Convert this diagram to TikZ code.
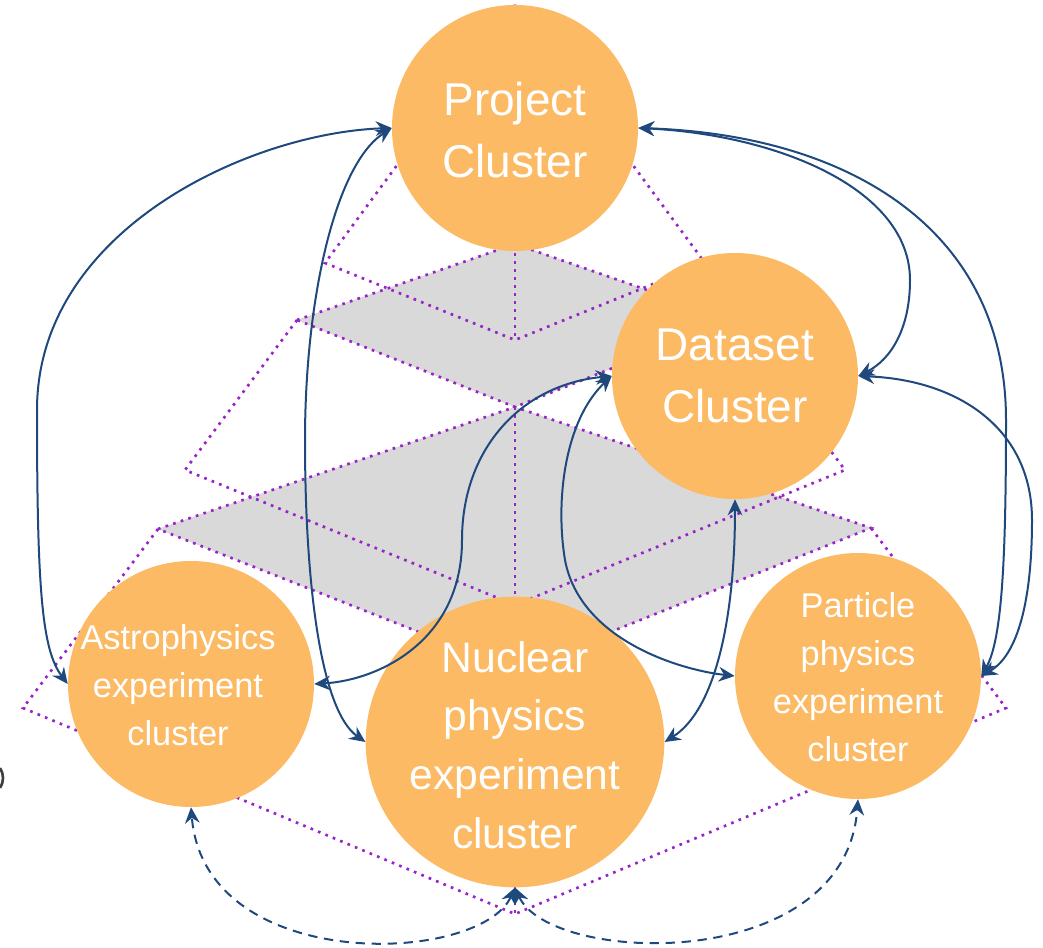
\documentclass[tikz,border=0pt]{standalone}
\usepackage{fontspec}
\setmainfont{Liberation Sans}
\usetikzlibrary{arrows.meta,shapes.geometric}
\definecolor{clusterfill}{RGB}{251,186,99}
\definecolor{linkblue}{RGB}{31,73,125}
\definecolor{gridpurple}{RGB}{152,35,198}
\definecolor{planegray}{RGB}{217,217,217}

\begin{document}
\begin{tikzpicture}[x=0.75pt,y=-0.75pt,
  cluster/.style={circle, fill=clusterfill, inner sep=0pt, minimum size=184.5pt},
  bigtext/.style={text=white, align=center, font=\fontsize{34.5}{47}\selectfont},
  midtext/.style={text=white, align=center, font=\fontsize{32}{44}\selectfont},
  smalltext/.style={text=white, align=center, font=\fontsize{25.8}{36}\selectfont},
  frame/.style={gridpurple, line width=2pt, dash pattern=on 2pt off 4pt},
  plane/.style={fill=planegray},
  tip/.tip={Stealth[length=12pt,width=11pt,inset=4pt]},
  link/.style={linkblue, line width=1.5pt, tip-tip},
  weaklink/.style={link, dash pattern=on 7pt off 5pt},
]
\useasboundingbox (0,0) rectangle (1043,948);

% ---- wire frame corners ----
\coordinate (apex) at (515,5);
\coordinate (pyrL) at (325,263);
\coordinate (pyrF) at (515,340);
\coordinate (pyrR) at (705,263);
\coordinate (upL) at (297,320);
\coordinate (upT) at (515,244);
\coordinate (upR) at (733,320);
\coordinate (upB) at (515,407);
\coordinate (midL) at (185,470);
\coordinate (midF) at (515,605);
\coordinate (midR) at (845,470);
\coordinate (loL) at (158,529);
\coordinate (loR) at (871,528);
\coordinate (loB) at (515,670);
\coordinate (botL) at (23,708);
\coordinate (botF) at (515,914);
\coordinate (botR) at (1006,708);

% ---- soft shadows under the two planes ----
\foreach \d/\o in {6/0.04,4/0.06,2/0.08}{
  \begin{scope}[shift={(0,\d)}]
    \fill[black,opacity=\o] (upL) -- (upT) -- (upR) -- (upB) -- cycle;
    \fill[black,opacity=\o] (loL) -- (upB) -- (loR) -- (loB) -- cycle;
  \end{scope}
}
% ---- the two grey planes ----
\fill[plane] (upL) -- (upT) -- (upR) -- (upB) -- cycle;
\fill[plane] (loL) -- (upB) -- (loR) -- (loB) -- cycle;

% ---- dotted wire frame ----
\draw[frame] (upL) -- (upT) -- (upR) -- (upB) -- cycle;
\draw[frame] (loL) -- (upB) -- (loR) -- (loB) -- cycle;
\draw[frame] (apex) -- (pyrL) -- (pyrF) -- (pyrR) -- (apex);
\draw[frame] (apex) -- (pyrF);
\draw[frame] (upL) -- (midL) -- (midF) -- (midR) -- (upR);
\draw[frame] (upB) -- (midF);
\draw[frame] (loL) -- (botL) -- (botF) -- (botR) -- (loR);
\draw[frame] (loB) -- (botF);

% ---- clusters ----
\node[cluster] (project) at (515,128) {};
\node[cluster] (dataset) at (735,376) {};
\node[cluster] (astro) at (191,684) {};
\node[cluster] (particle) at (858,676) {};
\node[ellipse, fill=clusterfill, inner sep=0pt, minimum width=224pt, minimum height=218pt] (nuclear) at (515,742) {};

\node[bigtext] (projectText) at (515,130) {Project\\Cluster};
\node[bigtext] (datasetText) at (735,376) {Dataset\\Cluster};
\node[midtext] (nuclearText) at (515,745) {Nuclear\\physics\\experiment\\cluster};
\node[smalltext] (astroText) at (178,685) {Astrophysics\\experiment\\cluster};
\node[smalltext] (particleText) at (858,677) {Particle\\physics\\experiment\\cluster};

% ---- links ----
\draw[link] (project.west) .. controls (250,133) and (37,230) .. (37,410)
  .. controls (37,590) and (42,650) .. (astro.west);
\draw[link] (project.west) .. controls (335,165) and (305,300) .. (305,440)
  .. controls (305,580) and (320,710) .. (nuclear.west);
\draw[link] (project.east) .. controls (780,135) and (910,190) .. (910,280)
  .. controls (910,330) and (890,360) .. (dataset.east);
\draw[link] (project.east) .. controls (850,135) and (1006,230) .. (1006,420)
  .. controls (1006,560) and (1002,640) .. (particle.east);
\draw[link] (dataset.east) .. controls (960,380) and (1032,430) .. (1032,520)
  .. controls (1032,600) and (1018,655) .. (particle.east);
\draw[link] (dataset.west) .. controls (520,385) and (462,450) .. (462,540)
  .. controls (462,640) and (380,680) .. (astro.east);
\draw[link] (dataset.west) .. controls (565,420) and (555,500) .. (565,560)
  .. controls (580,640) and (680,670) .. (particle.west);
\draw[link] (dataset.south) .. controls (735,620) and (715,710) .. (nuclear.east);
\draw[weaklink] (nuclear.south) .. controls (480,965) and (205,975) .. (astro.south);
\draw[weaklink] (nuclear.south) .. controls (550,965) and (845,975) .. (particle.south);

% ---- stray glyph stroke at the left edge ----
\draw[black!75, line width=2pt] (0,768) .. controls (4,774) and (4,782) .. (0,788);
\end{tikzpicture}
\end{document}
